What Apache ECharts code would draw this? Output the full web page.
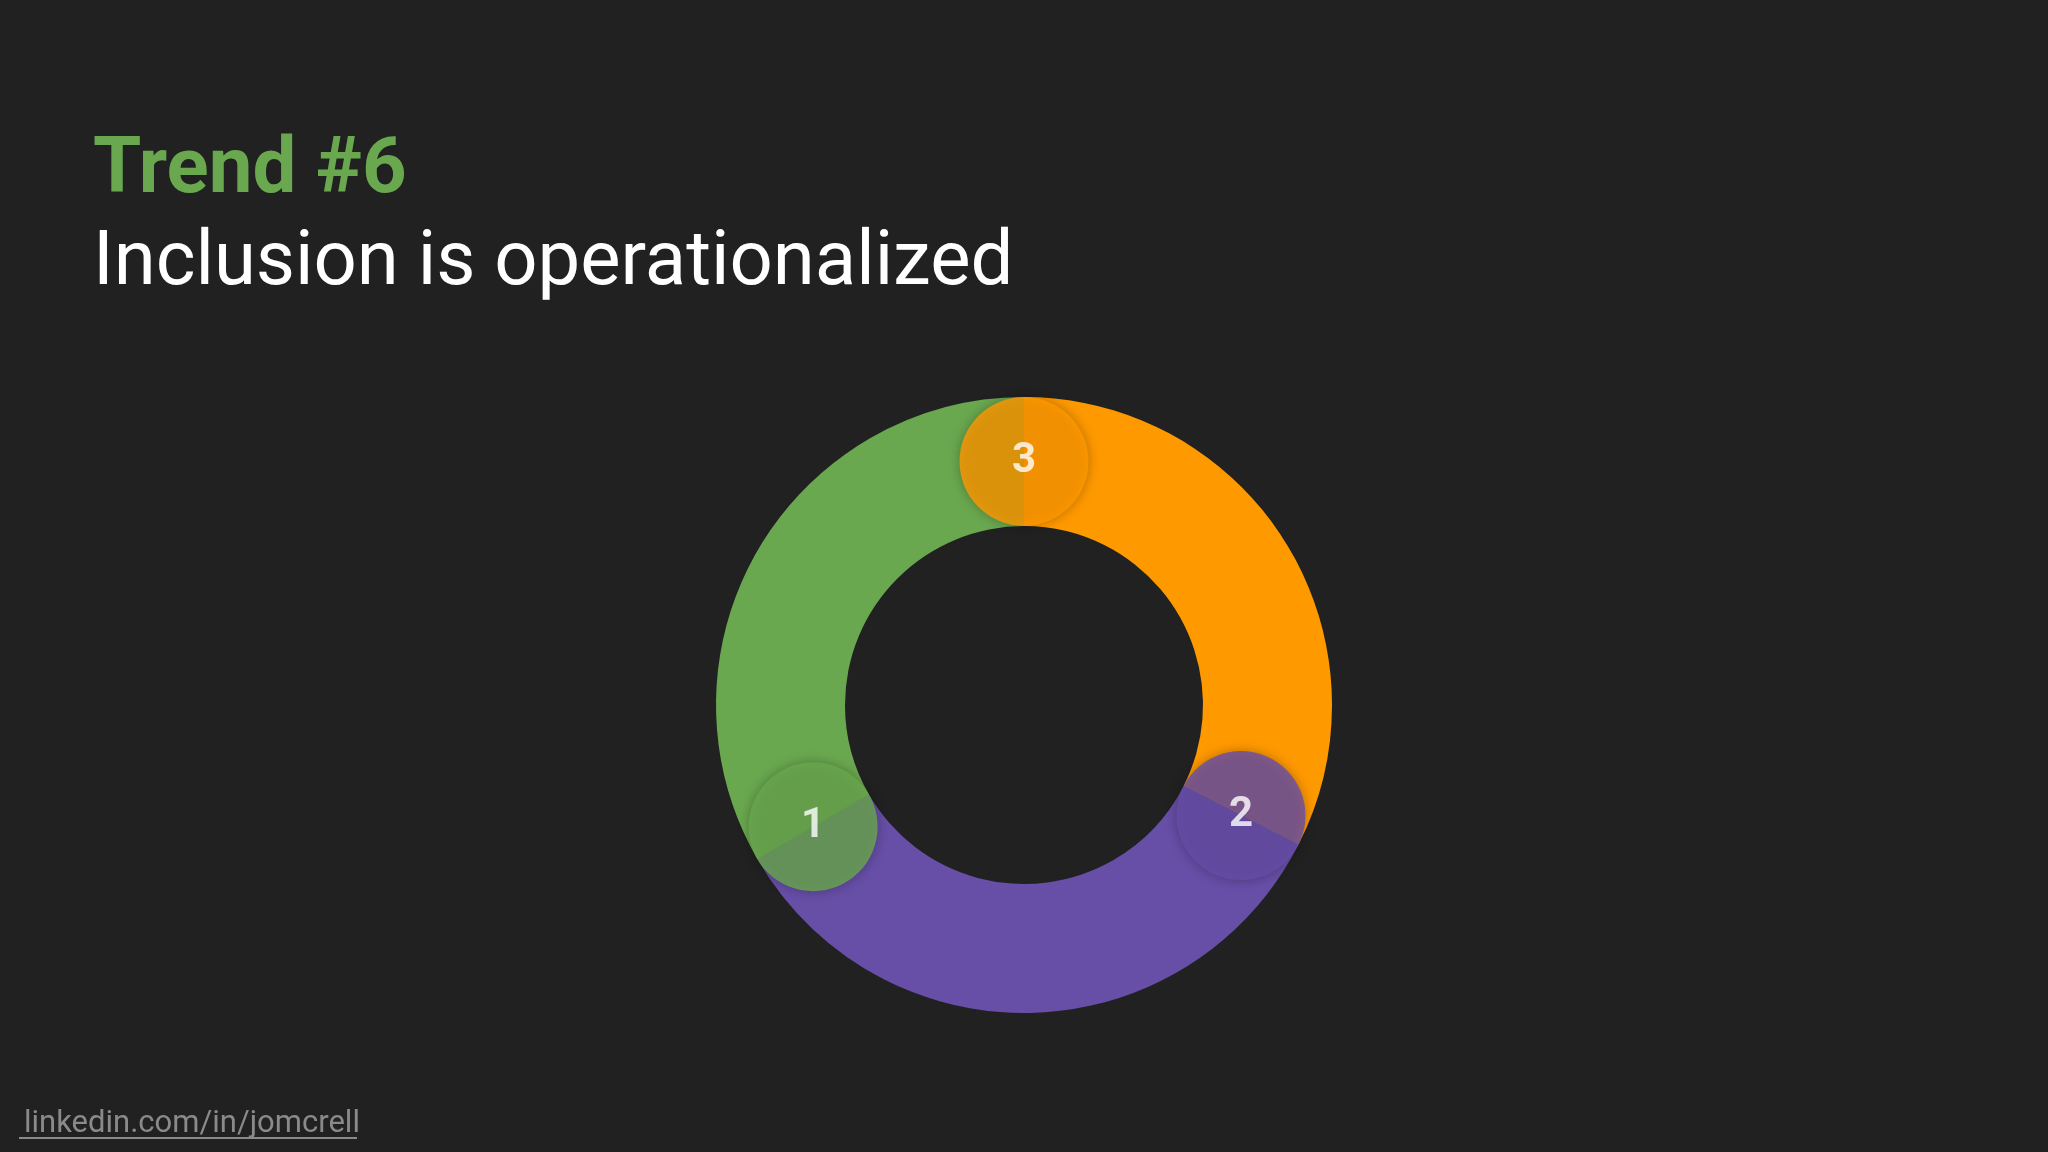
<!DOCTYPE html>
<html>
<head>
<meta charset="utf-8">
<script src="https://cdn.jsdelivr.net/npm/echarts@6/dist/echarts.min.js"></script>
<style>
  html, body { margin: 0; padding: 0; background: #212121; }
  #chart { width: 2048px; height: 1152px; }
</style>
</head>
<body>
<div id="chart"></div>
<script>
// segments, clockwise from 12 o'clock (degrees of the ring)
var segNames = ['3', '2', '1'];
var segValues = [117, 123, 120];
var segColors = ['#ff9900', '#674ea7', '#6aa84f'];

var chart = echarts.init(document.getElementById('chart'));

var innerR = 179, outerR = 308;
var capR = (innerR + outerR) / 2 / outerR; // in radius-axis units (0..1)

// start angle of each segment -> where its rounded head sits
var capData = [];
var acc = 0;
for (var i = 0; i < segValues.length; i++) {
    capData.push({
        value: [capR, acc],
        name: segNames[i],
        itemStyle: { color: segColors[i] }
    });
    acc += segValues[i];
}

var option = {
    backgroundColor: '#212121',
    title: [{
        text: 'Trend #6',
        left: 88, top: 128,
        textStyle: { color: '#6aa84f', fontSize: 78, fontWeight: 'bold', fontFamily: 'Roboto' }
    }, {
        text: 'Inclusion is operationalized',
        left: 88, top: 222,
        textStyle: { color: '#ffffff', fontSize: 76, fontWeight: 'normal', fontFamily: 'Roboto' }
    }, {
        text: 'linkedin.com/in/jomcrell',
        left: 19, top: 1104,
        textStyle: { color: '#8a8a8a', fontSize: 31, fontWeight: 'normal', fontFamily: 'Roboto' }
    }],
    graphic: [{
        type: 'line',
        shape: { x1: 19, y1: 1138, x2: 357, y2: 1138 },
        style: { stroke: '#8a8a8a', lineWidth: 2 }
    }],
    polar: { center: [1024, 705], radius: outerR },
    angleAxis: { type: 'value', min: 0, max: 360, startAngle: 90, clockwise: true, show: false },
    radiusAxis: { type: 'value', min: 0, max: 1, show: false },
    series: [{
        type: 'pie',
        center: [1024, 705],
        radius: [innerR, outerR],
        startAngle: 90,
        clockwise: true,
        silent: true,
        label: { show: false },
        labelLine: { show: false },
        data: segValues.map(function (v, i) {
            return { value: v, name: segNames[i], itemStyle: { color: segColors[i] } };
        }),
        z: 1
    }, {
        type: 'scatter',
        coordinateSystem: 'polar',
        symbol: 'circle',
        symbolSize: outerR - innerR,
        data: capData,
        itemStyle: { shadowBlur: 12, shadowColor: 'rgba(0,0,0,0.35)' },
        label: {
            show: true, position: 'inside',
            formatter: '{b}',
            color: '#ffffff', fontSize: 42, fontWeight: 'bold', fontFamily: 'Roboto'
        },
        z: 3
    }]
};
chart.setOption(option);
</script>
</body>
</html>
